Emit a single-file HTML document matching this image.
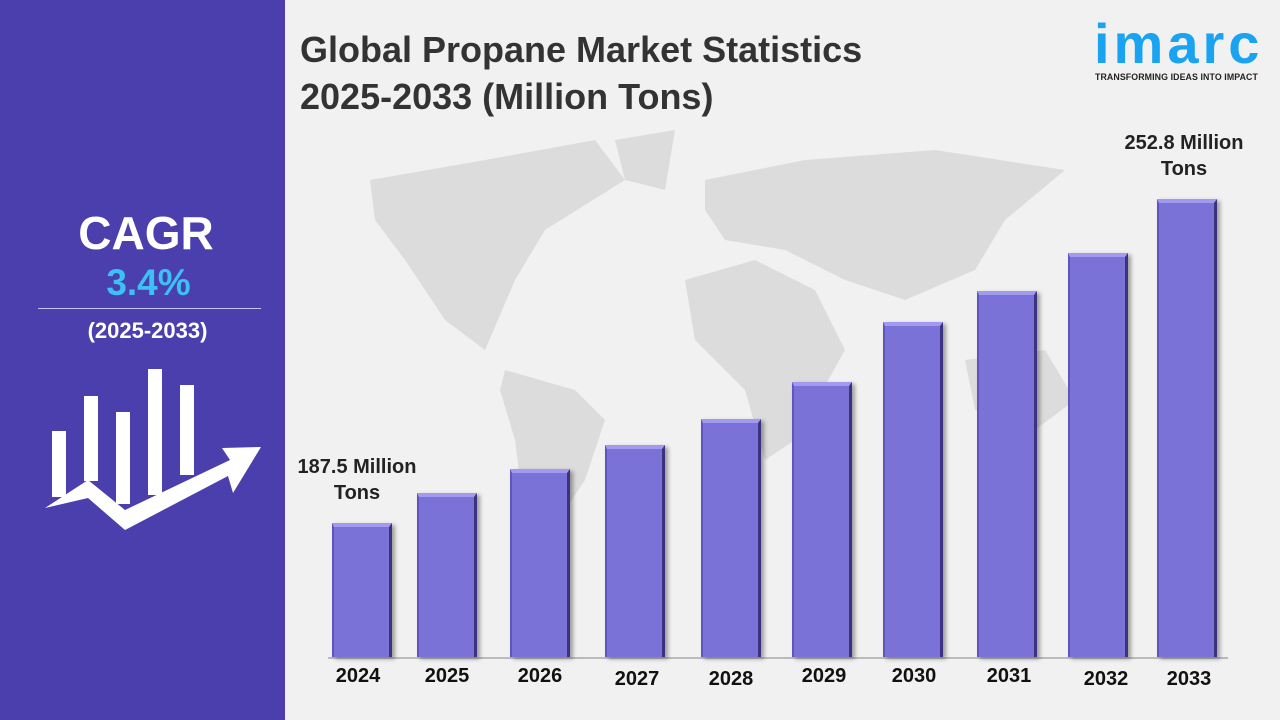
<!DOCTYPE html>
<html><head><meta charset="utf-8"><style>
body{margin:0;width:1280px;height:720px;overflow:hidden;background:#f1f1f1;font-family:"Liberation Sans",sans-serif;position:relative}
.left{position:absolute;left:0;top:0;width:285px;height:720px;background:#4b3fae}
.abs{position:absolute}
.bar{position:absolute;width:60px;background:#7b72d8;box-sizing:border-box;border-top:4px solid #a29af0;border-right:3px solid #3b3380;border-left:2px solid #5e55c0;box-shadow:3px 2px 4px rgba(0,0,0,.35)}
.yr{position:absolute;top:665px;width:80px;text-align:center;font-weight:bold;font-size:20px;color:#111}
.lbl{position:absolute;font-weight:bold;font-size:20px;color:#222;text-align:center;line-height:26px}
</style></head><body>
<div class="left"></div>
<div class="abs" style="left:0;width:292px;top:206px;text-align:center;color:#fff;font-weight:bold;font-size:46px">CAGR</div>
<div class="abs" style="left:0;width:297px;top:262px;text-align:center;color:#3cc0f5;font-weight:bold;font-size:37px">3.4%</div>
<div class="abs" style="left:38px;width:223px;top:308px;height:1px;background:#c8c4f0"></div>
<div class="abs" style="left:0;width:295px;top:318px;text-align:center;color:#fff;font-weight:bold;font-size:22px">(2025-2033)</div>
<svg class="abs" style="left:0;top:0" width="285" height="720">
<g fill="#fff">
<rect x="52" y="431" width="14" height="66"/><rect x="84" y="396" width="14" height="85"/><rect x="116" y="412" width="14" height="92"/><rect x="148" y="369" width="14" height="126"/><rect x="180" y="385" width="14" height="90"/>
<polygon points="45,508 88,480 125,510 230,460 222,448 261,447 233,493 228,476 125,530 88,498"/>
</g></svg>
<svg class="abs" style="left:285px;top:120px" width="995" height="540">
<g fill="#dcdcdc">
<path d="M85,60 L200,40 L310,20 L340,60 L260,110 L230,160 L200,230 L160,200 L120,140 L90,100Z"/>
<path d="M330,20 L390,10 L380,70 L340,60Z"/>
<path d="M220,250 L290,270 L320,300 L300,360 L260,420 L240,400 L230,320 L215,270Z"/>
<path d="M420,60 L520,40 L650,30 L780,50 L720,100 L690,150 L620,180 L560,160 L500,130 L440,120 L420,90Z"/>
<path d="M400,160 L470,140 L530,170 L560,230 L510,320 L480,340 L460,270 L410,220Z"/>
<path d="M680,240 L760,230 L790,280 L750,310 L690,290Z"/>
</g></svg>
<div class="abs" style="left:300px;top:26px;font-weight:bold;font-size:36px;color:#333;line-height:47px">Global Propane Market Statistics<br>2025-2033 (Million Tons)</div>
<div class="abs" style="left:1094px;top:14px;color:#1aa3f0;font-size:56px;font-weight:bold;letter-spacing:4px;line-height:60px">imarc</div>
<div class="abs" style="left:1095px;top:72px;font-size:8.8px;font-weight:bold;color:#222;letter-spacing:.1px">TRANSFORMING IDEAS INTO IMPACT</div>
<div class="abs" style="left:328px;top:657px;width:900px;height:2px;background:#bbb"></div>
<div class="bar" style="left:332px;top:523px;height:134px"></div>
<div class="bar" style="left:417px;top:493px;height:164px"></div>
<div class="bar" style="left:510px;top:469px;height:188px"></div>
<div class="bar" style="left:605px;top:445px;height:212px"></div>
<div class="bar" style="left:701px;top:419px;height:238px"></div>
<div class="bar" style="left:792px;top:382px;height:275px"></div>
<div class="bar" style="left:883px;top:322px;height:335px"></div>
<div class="bar" style="left:977px;top:291px;height:366px"></div>
<div class="bar" style="left:1068px;top:253px;height:404px"></div>
<div class="bar" style="left:1157px;top:199px;height:458px"></div>
<div class="yr" style="left:318px">2024</div><div class="yr" style="left:407px">2025</div><div class="yr" style="left:500px">2026</div><div class="yr" style="left:597px;top:668px">2027</div><div class="yr" style="left:691px;top:668px">2028</div><div class="yr" style="left:784px">2029</div><div class="yr" style="left:874px">2030</div><div class="yr" style="left:969px">2031</div><div class="yr" style="left:1066px;top:668px">2032</div><div class="yr" style="left:1149px;top:668px">2033</div>
<div class="lbl" style="left:287px;top:454px;width:140px">187.5 Million<br>Tons</div>
<div class="lbl" style="left:1114px;top:130px;width:140px">252.8 Million<br>Tons</div>
</body></html>
